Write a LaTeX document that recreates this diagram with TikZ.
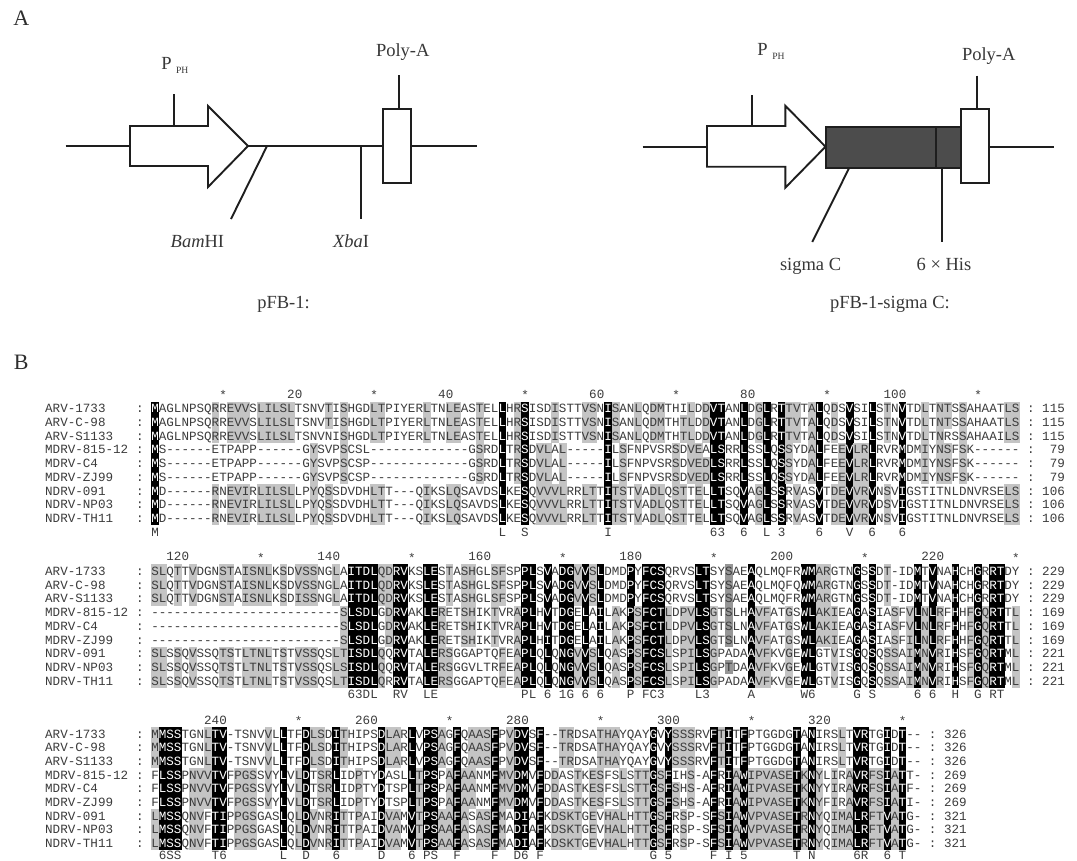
\documentclass[tikz,border=0pt]{standalone}
\usepackage{fontspec}
\newfontfamily\seqf{Liberation Mono}
\newfontfamily\serf{Liberation Serif}
\definecolor{rslight}{HTML}{C4C4C4}
\definecolor{rsdark}{HTML}{969696}
\definecolor{rstext}{HTML}{3C3C3C}
\definecolor{rsline}{HTML}{1E1E1E}
\definecolor{rssigma}{HTML}{4C4C4C}
\tikzset{
  seqtext/.style={anchor=base west,inner sep=0pt,outer sep=0pt,text=rstext,font=\seqf\fontsize{12.58}{14}\selectfont},
  seqend/.style={anchor=base east,inner sep=0pt,outer sep=0pt,text=rstext,font=\seqf\fontsize{12.58}{14}\selectfont},
  labelt/.style={anchor=base west,inner sep=0pt,outer sep=0pt,text=black!78,font=\serf\fontsize{18.5}{22}\selectfont},
  subt/.style={anchor=base west,inner sep=0pt,outer sep=0pt,text=black!78,font=\serf\fontsize{9.6}{11}\selectfont},
  panelt/.style={anchor=base west,inner sep=0pt,outer sep=0pt,text=black!82,font=\serf\fontsize{22}{26}\selectfont},
  wire/.style={draw=rsline,line width=1.9pt},
  boxl/.style={draw=rsline,line width=1.9pt,line join=miter},
}
\newcommand\wc[1]{\textcolor{white}{#1}}
\newcommand\rscell[4]{\fill[#4]({151.25+7.55*(#1-1)},{#3+13.7*(#2-1)-6.95}) rectangle ++(7.7,13.9);}
\newcommand\rsname[4]{\node[seqtext,name=name#1r#2] at (45.2,{#3+13.7*(#2-1)+4.1}) {#4};
  \node[seqtext,name=colonl#1r#2] at (136.1,{#3+13.7*(#2-1)+4.1}) {:};}
\newcommand\rsseq[4]{\node[seqtext,name=seq#1r#2] at (151.33,{#3+13.7*(#2-1)+4.1}) {#4};}
\newcommand\rsend[5]{\node[seqtext,name=colonr#1r#2] at ({151.33+7.55*(#3+1)},{#4+13.7*(#2-1)+4.1}) {:};
  \node[seqend,name=num#1r#2] at ({151.33+7.55*(#3+6)},{#4+13.7*(#2-1)+4.1}) {#5};}
\newcommand\rscons[3]{\node[seqtext,name=cons#1] at (151.33,{#2+4.1}) {#3};}
\newcommand\rsstar[3]{\node[seqend,name=star#1c#3] at ({151.33+7.55*#3},{#2+5.4}) {*};}
\newcommand\rstick[3]{\node[seqend,name=tick#1c#3] at ({151.33+7.55*#3},{#2+4.1}) {\number\numexpr #3+(#1-1)*115\relax};}
\ExplSyntaxOn
\int_new:N \l_rs_n_int
\int_new:N \l_rs_e_int
\int_new:N \l_rs_r_int
\tl_new:N \l_rs_cons_tl
\int_step_inline:nn {9}
  {
    \tl_new:c {l_rs_seq_#1_tl}
    \tl_new:c {l_rs_out_#1_tl}
    \tl_new:c {l_rs_c_#1_tl}
    \tl_new:c {l_rs_g_#1_tl}
  }
\cs_new:Npn \rs_group:n #1
  {
    \str_case:nnF {#1}
      {
        {L}{6}{I}{6}{V}{6}{M}{6}
        {F}{5}{W}{5}{Y}{5}
        {S}{3}{T}{3}
        {D}{1}{N}{1}
        {E}{2}{Q}{2}
        {K}{4}{R}{4}
      }
      {#1}
  }
\cs_generate_variant:Nn \rs_group:n {v}
\cs_new_protected:Npn \rs_get:nn #1#2
  {
    \tl_set:cx {l_rs_c_#1_tl} { \tl_item:cn {l_rs_seq_#1_tl} {#2} }
    \tl_set:cx {l_rs_g_#1_tl} { \rs_group:v {l_rs_c_#1_tl} }
  }
\cs_new_protected:Npn \rs_cell:nnn #1#2#3
  {
    \int_zero:N \l_rs_n_int
    \str_if_eq:eeF { \tl_use:c {l_rs_g_#1_tl} } {-}
      {
        \int_step_inline:nn {9}
          {
            \str_if_eq:eeT { \tl_use:c {l_rs_g_#1_tl} } { \tl_use:c {l_rs_g_##1_tl} }
              { \int_incr:N \l_rs_n_int }
          }
      }
    \int_compare:nNnTF {\l_rs_n_int} = {9}
      {
        \rscell{#2}{#1}{#3}{black}
        \tl_put_right:cx {l_rs_out_#1_tl} { \exp_not:N \wc { \tl_use:c {l_rs_c_#1_tl} } }
      }
      {
        \int_compare:nNnTF {\l_rs_n_int} > {6}
          { \rscell{#2}{#1}{#3}{rsdark} }
          {
            \int_compare:nNnT {\l_rs_n_int} > {4}
              { \rscell{#2}{#1}{#3}{rslight} }
          }
        \tl_put_right:cx {l_rs_out_#1_tl} { \tl_use:c {l_rs_c_#1_tl} }
      }
  }
\cs_new_protected:Npn \rs_cons:
  {
    \int_zero:N \l_rs_n_int
    \int_zero:N \l_rs_e_int
    \str_if_eq:eeF { \tl_use:c {l_rs_g_1_tl} } {-}
      {
        \int_step_inline:nn {9}
          {
            \str_if_eq:eeT { \tl_use:c {l_rs_g_1_tl} } { \tl_use:c {l_rs_g_##1_tl} }
              { \int_incr:N \l_rs_n_int }
            \str_if_eq:eeT { \tl_use:c {l_rs_c_1_tl} } { \tl_use:c {l_rs_c_##1_tl} }
              { \int_incr:N \l_rs_e_int }
          }
      }
    \int_compare:nNnTF {\l_rs_n_int} = {9}
      {
        \int_compare:nNnTF {\l_rs_e_int} = {9}
          { \tl_put_right:Nx \l_rs_cons_tl { \tl_use:c {l_rs_c_1_tl} } }
          { \tl_put_right:Nx \l_rs_cons_tl { \tl_use:c {l_rs_g_1_tl} } }
      }
      { \tl_put_right:Nn \l_rs_cons_tl { \hphantom{0} } }
  }
\cs_new_protected:Npn \rs_column:nn #1#2
  {
    \int_step_inline:nn {9} { \rs_get:nn {##1} {#1} }
    \int_step_inline:nn {9} { \rs_cell:nnn {##1} {#1} {#2} }
    \rs_cons:
  }
% #1 block, #2 first-row centre y, #3 consensus y, #4 columns, #5 sequences, #6 end numbers
\NewDocumentCommand \rsblock { m m m m m m }
  {
    \int_zero:N \l_rs_r_int
    \tl_clear:N \l_rs_cons_tl
    \clist_map_inline:nn {#5}
      {
        \int_incr:N \l_rs_r_int
        \tl_set:cn {l_rs_seq_ \int_use:N \l_rs_r_int _tl} {##1}
        \tl_clear:c {l_rs_out_ \int_use:N \l_rs_r_int _tl}
      }
    \int_step_inline:nn {#4} { \rs_column:nn {##1} {#2} }
    \int_zero:N \l_rs_r_int
    \clist_map_inline:nn { ARV-1733, ARV-C-98, ARV-S1133, MDRV-815-12, MDRV-C4, MDRV-ZJ99, NDRV-091, NDRV-NP03, NDRV-TH11 }
      {
        \int_incr:N \l_rs_r_int
        \exp_args:Nnx \rsname {#1} { \int_use:N \l_rs_r_int } {#2} {##1}
      }
    \int_step_inline:nn {9}
      { \rsseq {#1} {##1} {#2} { \tl_use:c {l_rs_out_##1_tl} } }
    \int_zero:N \l_rs_r_int
    \clist_map_inline:nn {#6}
      {
        \int_incr:N \l_rs_r_int
        \exp_args:Nnx \rsend {#1} { \int_use:N \l_rs_r_int } {#4} {#2} {##1}
      }
    \rscons {#1} {#3} { \tl_use:N \l_rs_cons_tl }
  }
\ExplSyntaxOff
\begin{document}
\begin{tikzpicture}[x=1pt,y=-1pt]
\useasboundingbox (0,0) rectangle (1077,860);
\fill[white] (0,0) rectangle (1077,860);
% ---------- Panel A, left construct
\node[panelt,name=panelA] at (13.3,25) {A};
\draw[wire] (65.7,146) -- (130,146);
\draw[wire] (248,146) -- (383,146);
\draw[wire] (411,146) -- (476.7,146);
\draw[boxl,fill=white] (130,126) -- (208,126) -- (208,106) -- (248,146) -- (208,187) -- (208,166) -- (130,166) -- cycle;
\draw[boxl,fill=white] (383,108.7) rectangle (411,183);
\draw[wire] (174.3,94.3) -- (174.3,126);
\draw[wire] (399,75.3) -- (399,108.7);
\draw[wire] (267,146) -- (231,219);
\draw[wire] (361.3,146) -- (361.3,219);
\node[labelt,name=pa] at (161.3,69) {P};
\node[subt,name=pasub] at (176,73.3) {PH};
\node[labelt,name=polya] at (376,56.7) {Poly-A};
\node[labelt,name=bam] at (170.7,247.7) {\itshape Bam\upshape HI};
\node[labelt,name=xba] at (333,247.7) {\itshape Xba\upshape I};
\node[labelt,name=pfb] at (257.3,308.3) {pFB-1:};
% ---------- Panel A, right construct
\draw[wire] (642.7,146.7) -- (707,146.7);
\draw[wire] (988.7,146.7) -- (1054.3,146.7);
\draw[boxl,fill=white] (707,126) -- (785.3,126) -- (785.3,105.7) -- (825.5,146.7) -- (785.3,187.7) -- (785.3,166.7) -- (707,166.7) -- cycle;
\draw[boxl,fill=rssigma] (825.7,127.3) rectangle (960.7,167.7);
\draw[boxl] (936,127.3) -- (936,167.7);
\draw[boxl,fill=white] (960.7,108.7) rectangle (988.7,183.3);
\draw[wire] (752,95) -- (752,126);
\draw[wire] (976.7,75.7) -- (976.7,108.7);
\draw[wire] (849.3,167.7) -- (812.3,242);
\draw[wire] (942.3,167.7) -- (942.3,242);
\node[labelt,name=pb] at (757.3,55) {P};
\node[subt,name=pbsub] at (772.3,59) {PH};
\node[labelt,name=polyb] at (962,60) {Poly-A};
\node[labelt,name=sigma] at (780,270) {sigma C};
\node[labelt,name=his] at (916.7,270) {6 × His};
\node[labelt,name=pfbs] at (830,308.3) {pFB-1-sigma C:};
% ---------- Panel B
\node[panelt,name=panelB] at (13.8,369.3) {B};
\foreach \c in {10,30,50,70,90,110} {\rsstar{1}{394.5}{\c}}
\foreach \c in {20,40,60,80,100} {\rstick{1}{394.5}{\c}}
\rsblock{1}{408.7}{532.7}{115}{
MAGLNPSQRREVVSLILSLTSNVTISHGDLTPIYERLTNLEASTELLHRSISDISTTVSNISANLQDMTHILDDVTANLDGLRTTVTALQDSVSILSTNVTDLTNTSSAHAATLS,
MAGLNPSQRREVVSLILSLTSNVTISHGDLTPIYERLTNLEASTELLHRSISDISTTVSNISANLQDMTHTLDDVTANLDGLRTTVTALQDSVSILSTNVTDLTNTSSAHAATLS,
MAGLNPSQRREVVSLILSLTSNVNISHGDLTPIYERLTNLEASTELLHRSISDISTTVSNISANLQDMTHTLDDVTANLDGLRTTVTALQDSVSILSTNVTDLTNRSSAHAAILS,
MS------ETPAPP------GYSVPSCSL-------------GSRDLTRSDVLAL-----ILSFNPVSRSDVEALSRRLSSLQSSYDALFEEVLRLRVRMDMIYNSFSK------,
MS------ETPAPP------GYSVPSCSP-------------GSRDLTRSDVLAL-----ILSFNPVSRSDVEDLSRRLSSLQSSYDALFEEVLRLRVRMDMIYNSFSK------,
MS------ETPAPP------GYSVPSCSP-------------GSRDLTRSDVLAL-----ILSFNPVSRSDVEDLSRRLSSLQSSYDALFEEVLRLRVRMDMIYNSFSK------,
MD------RNEVIRLILSLLPYQSSDVDHLTT---QIKSLQSAVDSLKESQVVVLRRLTTITSTVADLQSTTELLTSQVAGLSSRVASVTDEVVRVNSVIGSTITNLDNVRSELS,
MD------RNEVIRLILSLLPYQSSDVDHLTT---QIKSLQSAVDSLKESQVVVLRRLTTITSTVADLQSTTELLTSQVAGLSSRVASVTDEVVRVDSVIGSTITNLDNVRSELS,
MD------RNEVIRLILSLLPYQSSDVDHLTT---QIKSLQSAVDSLKESQVVVLRRLTTITSTVADLQSTTELLTSQVAGLSSRVASVTDEVVRVNSVIGSTITNLDNVRSELS
}{115,115,115,79,79,79,106,106,106}
\foreach \c in {15,35,55,75,95,115} {\rsstar{2}{556.8}{\c}}
\foreach \c in {5,25,45,65,85,105} {\rstick{2}{556.8}{\c}}
\rsblock{2}{571.4}{694.8}{115}{
SLQTTVDGNSTAISNLKSDVSSNGLAITDLQDRVKSLESTASHGLSFSPPLSVADGVVSLDMDPYFCSQRVSLTSYSAEAQLMQFRWMARGTNGSSDT-IDMTVNAHCHGRRTDY,
SLQTTVDGNSTAISNLKSDVSSNGLAITDLQDRVKSLESTASHGLSFSPPLSVADGVVSLDMDPYFCSQRVSLTSYSAEAQLMQFQWMARGTNGSSDT-IDMTVNAHCHGRRTDY,
SLQTTVDGNSTAISNLKSDISSNGLAITDLQDRVKSLESTASHGLSFSPPLSVADGVVSLDMDPYFCSQRVSLTSYSAEAQLMQFRWMARGTNGSSDT-IDMTVNAHCHGRRTDY,
-------------------------SLSDLGDRVAKLERETSHIKTVRAPLHVTDGELAILAKPSFCTLDPVLSGTSLHAVFATGSWLAKIEAGASIASFVLNLRFHHFGQRTTL,
-------------------------SLSDLGDRVAKLERETSHIKTVRAPLHVTDGELAILAKPSFCTLDPVLSGTSLNAVFATGSWLAKIEAGASIASFVLNLRFHHFGQRTTL,
-------------------------SLSDLGDRVAKLERETSHIKTVRAPLHITDGELAILAKPSFCTLDPVLSGTSLNAVFATGSWLAKIEAGASIASFILNLRFHHFGQRTTL,
SLSSQVSSQTSTLTNLTSTVSSQSLTISDLQQRVTALERSGGAPTQFEAPLQLQNGVVSLQASPSFCSLSPILSGPADAAVFKVGEWLGTVISGQSQSSAIMNVRIHSFGQRTML,
SLSSQVSSQTSTLTNLTSTVSSQSLSISDLQQRVTALERSGGVLTRFEAPLQLQNGVVSLQASPSFCSLSPILSGPTDAAVFKVGEWLGTVISGQSQSSAIMNVRIHSFGQRTML,
SLSSQVSSQTSTLTNLTSTVSSQSLTISDLQRRVTALERSGGAPTQFEAPLQLQNGVVSLQASPSFCSLSPILSGPADAAVFKVGEWLGTVISGQSQSSAIMNVRIHSFGQRTML
}{229,229,229,169,169,169,221,221,221}
\foreach \c in {20,40,60,80,100} {\rsstar{3}{720.2}{\c}}
\foreach \c in {10,30,50,70,90} {\rstick{3}{720.2}{\c}}
\rsblock{3}{733.9}{855.4}{102}{
MMSSTGNLTV-TSNVVLLTFDLSDITHIPSDLARLVPSAGFQAASFPVDVSF--TRDSATHAYQAYGVYSSSRVFTITFPTGGDGTANIRSLTVRTGIDT--,
MMSSTGNLTV-TSNVVLLTFDLSDITHIPSDLARLVPSAGFQAASFPVDVSF--TRDSATHAYQAYGVYSSSRVFTITFPTGGDGTANIRSLTVRTGIDT--,
MMSSTGNLTV-TSNVVLLTFDLSDITHIPSDLARLVPSAGFQAASFPVDVSF--TRDSATHAYQAYGVYSSSRVFTITFPTGGDGTANIRSLTVRTGIDT--,
FLSSPNVVTVFPGSSVYLVLDTSRLIDPTYDASLLTPSPAFAANMFMVDMVFDDASTKESFSLSTTGSFIHS-AFRIAWIPVASETKNYLIRAVRFSIATT-,
FLSSPNVVTVFPGSSVYLVLDTSRLIDPTYDTSPLTPSPAFAANMFMVDMVFDDASTKESFSLSTTGSFSHS-AFRIAWIPVASETKNYYIRAVRFSIATF-,
FLSSPNVVTVFPGSSVYLVLDTSRLIDPTYDTSPLTPSPAFAANMFMVDMVFDDASTKESFSLSTTGSFSHS-AFRIAWIPVASETKNYFIRAVRFSIATI-,
LMSSQNVFTIPPGSGASLQLDVNRITTPAIDVAMVTPSAAFASASFMADIAFKDSKTGEVHALHTTGSFRSP-SFSIAWVPVASETRNYQIMALRFTVATG-,
LMSSQNVFTIPPGSGASLQLDVNRITTPAIDVAMVTPSAAFASASFMADIAFKDSKTGEVHALHTTGSFRSP-SFSIAWVPVASETRNYQIMALRFTVATG-,
LMSSQNVFTIPPGSGASLQLDVNRITTPAIDVAMVTPSAAFASASFMADIAFKDSKTGEVHALHTTGSFRSP-SFSIAWVPVASETRNYQIMALRFTVATG-
}{326,326,326,269,269,269,321,321,321}
\end{tikzpicture}
\end{document}
